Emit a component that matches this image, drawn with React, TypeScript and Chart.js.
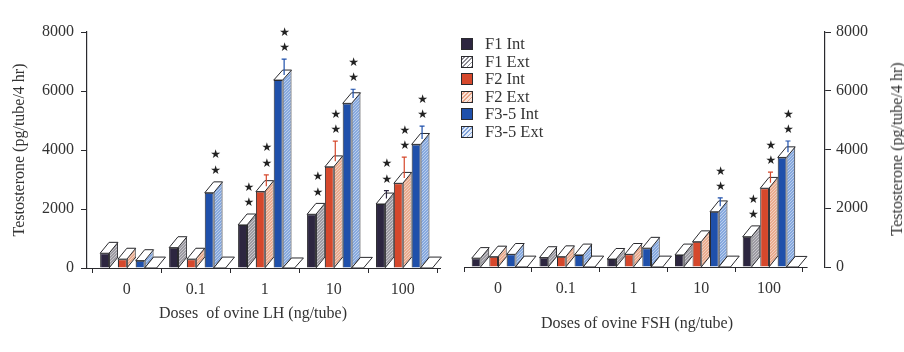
import React, { useEffect, useRef } from 'react';
import { Chart, registerables } from 'chart.js';
Chart.register(...registerables);

const SERIF = '"Liberation Serif", "Times New Roman", serif';
const INK = '#2a2a2e';
const TXT = '#333';

// ---------- data ----------
const doseLabels = ['0', '0.1', '1', '10', '100'];
const seriesNames = ['F1 Int', 'F1 Ext', 'F2 Int', 'F2 Ext', 'F3-5 Int', 'F3-5 Ext'];
const yTicks = [0, 2000, 4000, 6000, 8000];

// LH panel
const lhF1Int = [500, 690, 1460, 1820, 2170];
const lhF1Ext = [870, 1060, 1830, 2190, 2540];
const lhF2Int = [300, 300, 2590, 3430, 2870];
const lhF2Ext = [670, 670, 2960, 3800, 3240];
const lhF35Int = [250, 2550, 6370, 5580, 4190];
const lhF35Ext = [620, 2920, 6710, 5940, 4560];
const lhF1Err = [0, 0, 0, 0, 80];
const lhF2Err = [0, 0, 200, 500, 520];
const lhF35Err = [0, 0, 370, 120, 250];
const lhF1Stars = [0, 0, 2, 2, 2];
const lhF2Stars = [0, 0, 2, 2, 2];
const lhF35Stars = [0, 2, 2, 2, 2];

// FSH panel
const fshF1Int = [300, 320, 270, 410, 1030];
const fshF1Ext = [660, 690, 630, 780, 1400];
const fshF2Int = [350, 350, 430, 860, 2680];
const fshF2Ext = [710, 720, 800, 1230, 3050];
const fshF35Int = [430, 410, 640, 1880, 3730];
const fshF35Ext = [800, 780, 1010, 2250, 4090];
const fshF1Err = [0, 0, 0, 0, 0];
const fshF2Err = [0, 0, 0, 0, 180];
const fshF35Err = [0, 0, 0, 100, 200];
const fshF1Stars = [0, 0, 0, 0, 2];
const fshF2Stars = [0, 0, 0, 0, 2];
const fshF35Stars = [0, 0, 0, 2, 2];

// ---------- styles ----------
const intColors = ['#2d2640', '#d6482c', '#1f50ab'];
const extBase = ['#9c9aa2', '#e9ab8e', '#86a8de'];
const legendExtCss = [
  'repeating-linear-gradient(-45deg, #8e8c94 0 1.2px, #ffffff 1.2px 3px)',
  'repeating-linear-gradient(-45deg, #e9a386 0 1.2px, #fbe3d8 1.2px 3px)',
  'repeating-linear-gradient(-45deg, #7fa2da 0 1.2px, #e3ecfa 1.2px 3px)',
];

function hatch(bg: string, line: string) {
  const c = document.createElement('canvas');
  c.width = 3;
  c.height = 3;
  const g = c.getContext('2d')!;
  g.fillStyle = bg;
  g.fillRect(0, 0, 3, 3);
  g.strokeStyle = line;
  g.lineWidth = 0.8;
  g.beginPath();
  g.moveTo(0, 3); g.lineTo(3, 0);
  g.moveTo(-1, 1); g.lineTo(1, -1);
  g.moveTo(2, 4); g.lineTo(4, 2);
  g.stroke();
  return g.createPattern(c, 'repeat')!;
}

function makeDatasets(ints: number[][], exts: number[][]) {
  const ds: any[] = [];
  for (let p = 0; p < 3; p++) {
    ds.push({
      label: seriesNames[2 * p],
      data: ints[p].map((v, i) => ({ x: i, y: v })),
      backgroundColor: intColors[p],
      borderColor: INK,
      borderWidth: 1,
      categoryPercentage: 0.775,
      barPercentage: 1,
    });
    ds.push({
      label: seriesNames[2 * p + 1],
      data: exts[p].map((v, i) => ({ x: i, y: v })),
      backgroundColor: hatch(extBase[p], 'rgba(255,255,255,0.55)'),
      borderColor: INK,
      borderWidth: 1,
      categoryPercentage: 0.775,
      barPercentage: 1,
    });
  }
  return ds;
}

function box3d(exts: number[][], errs: number[][], stars: number[][], baseline: [number, number] | null) {
  return {
    id: 'box3d',
    afterDatasetsDraw(chart: any) {
      const ctx = chart.ctx as CanvasRenderingContext2D;
      const ys = chart.scales.y;
      const xs = chart.scales.x;
      const base = ys.getPixelForValue(0);
      ctx.save();
      ctx.lineWidth = 1;
      ctx.strokeStyle = INK;
      ctx.lineJoin = 'round';
      if (baseline) {
        ctx.beginPath();
        ctx.moveTo(xs.getPixelForValue(baseline[0]), base + 0.5);
        ctx.lineTo(xs.getPixelForValue(baseline[1]), base + 0.5);
        ctx.stroke();
      }
      for (let p = 0; p < 3; p++) {
        const mi = chart.getDatasetMeta(2 * p);
        const me = chart.getDatasetMeta(2 * p + 1);
        mi.data.forEach((bi: any, k: number) => {
          const be: any = me.data[k];
          const w = bi.width;
          const L = bi.x - w / 2;
          const xm = be.x - be.width / 2;
          const xr = be.x + be.width / 2;
          const yI = bi.y;
          const yE = be.y;
          const d = yI - yE;
          // floor triangle under side face
          ctx.fillStyle = '#ffffff';
          ctx.beginPath();
          ctx.moveTo(xm, base);
          ctx.lineTo(xr, base - d);
          ctx.lineTo(xr, base);
          ctx.closePath();
          ctx.fill();
          ctx.beginPath();
          ctx.moveTo(xm, base);
          ctx.lineTo(xr, base - d);
          ctx.stroke();
          if (p === 2) {
            const tw = w + 3;
            ctx.beginPath();
            ctx.moveTo(xm, base);
            ctx.lineTo(xm + tw, base);
            ctx.lineTo(xr + tw, base - d);
            ctx.lineTo(xr, base - d);
            ctx.closePath();
            ctx.fill();
            ctx.stroke();
          }
          // top cap
          ctx.beginPath();
          ctx.moveTo(L, yI);
          ctx.lineTo(L + w, yI);
          ctx.lineTo(xr, yE);
          ctx.lineTo(xr - w, yE);
          ctx.closePath();
          ctx.fillStyle = '#ffffff';
          ctx.fill();
          ctx.stroke();
          // error bar
          let topRef = yE;
          const e = errs[p][k];
          if (e > 0) {
            const et = ys.getPixelForValue(exts[p][k] + e);
            const ex = xm + 1.5;
            ctx.save();
            ctx.strokeStyle = intColors[p];
            ctx.lineWidth = 1.2;
            ctx.beginPath();
            ctx.moveTo(ex, yE + d / 2);
            ctx.lineTo(ex, et);
            ctx.moveTo(ex - 2.5, et);
            ctx.lineTo(ex + 2.5, et);
            ctx.stroke();
            ctx.restore();
            topRef = Math.min(topRef, et);
          }
          // significance stars
          const n = stars[p][k];
          if (n > 0) {
            ctx.fillStyle = '#222';
            ctx.font = '12px "DejaVu Sans"';
            ctx.textAlign = 'center';
            ctx.textBaseline = 'middle';
            for (let s = 0; s < n; s++) {
              ctx.fillText('★', xm + 2, topRef - 11 - s * 15.5);
            }
          }
        });
      }
      ctx.restore();
    },
  };
}

function baseOptions(side: 'left' | 'right', xmin: number, xmax: number, pad: any, yWidth: number, showXBorder: boolean) {
  const font = { family: SERIF, size: 16 };
  return {
    animation: false,
    responsive: false,
    maintainAspectRatio: false,
    layout: { padding: pad },
    plugins: { legend: { display: false }, tooltip: { enabled: false } },
    scales: {
      x: {
        type: 'linear',
        min: xmin,
        max: xmax,
        offset: false,
        afterBuildTicks: (s: any) => {
          s.ticks = doseLabels.map((_, i) => ({ value: i }));
        },
        afterFit: (s: any) => {
          s.height = 40;
        },
        grid: { display: true, drawOnChartArea: false, tickLength: 5, color: INK, lineWidth: 1 },
        border: { display: showXBorder, color: INK, width: 1 },
        ticks: {
          autoSkip: false,
          maxRotation: 0,
          padding: 7,
          color: TXT,
          font,
          callback: (v: any) => doseLabels[Math.round(v)] ?? '',
        },
      },
      y: {
        position: side,
        min: 0,
        max: 8000,
        afterBuildTicks: (s: any) => {
          s.ticks = yTicks.map((v) => ({ value: v }));
        },
        afterFit: (s: any) => {
          s.width = yWidth;
        },
        grid: { display: true, drawOnChartArea: false, tickLength: 6, color: INK, lineWidth: 1 },
        border: { display: true, color: INK, width: 1.2 },
        ticks: { color: TXT, font, padding: side === 'left' ? 7 : 5, callback: (v: any) => String(v) },
        title: side === 'left'
          ? { display: true, text: 'Testosterone (pg/tube/4 hr)', color: TXT, font, padding: { top: 10, bottom: 0 } }
          : { display: false },
      },
    },
  };
}

export default function App() {
  const leftRef = useRef<HTMLCanvasElement>(null);
  const rightRef = useRef<HTMLCanvasElement>(null);

  useEffect(() => {
    const left = new Chart(leftRef.current!, {
      type: 'bar',
      data: { datasets: makeDatasets([lhF1Int, lhF2Int, lhF35Int], [lhF1Ext, lhF2Ext, lhF35Ext]) },
      options: baseOptions('left', -0.578, 4.54, { left: 0, right: 12, top: 32, bottom: 44 }, 87, true) as any,
      plugins: [box3d([lhF1Ext, lhF2Ext, lhF35Ext], [lhF1Err, lhF2Err, lhF35Err], [lhF1Stars, lhF2Stars, lhF35Stars], null)],
    });
    const right = new Chart(rightRef.current!, {
      type: 'bar',
      data: { datasets: makeDatasets([fshF1Int, fshF2Int, fshF35Int], [fshF1Ext, fshF2Ext, fshF35Ext]) },
      options: baseOptions('right', -0.531, 4.827, { left: 10, right: 0, top: 32, bottom: 45 }, 79, false) as any,
      plugins: [box3d([fshF1Ext, fshF2Ext, fshF35Ext], [fshF1Err, fshF2Err, fshF35Err], [fshF1Stars, fshF2Stars, fshF35Stars], [-0.5, 4.57])],
    });
    return () => {
      left.destroy();
      right.destroy();
    };
  }, []);

  const legendSwatch = (i: number): React.CSSProperties => {
    const p = Math.floor(i / 2);
    const isExt = i % 2 === 1;
    return {
      position: 'absolute',
      left: 0,
      top: 3,
      width: 10,
      height: 10,
      border: `1px solid ${INK}`,
      background: isExt ? legendExtCss[p] : intColors[p],
    };
  };

  return (
    <div style={{ position: 'absolute', left: 0, top: 0, width: 904, height: 352, background: '#ffffff', overflow: 'hidden', fontFamily: SERIF, color: TXT }}>
      <canvas ref={leftRef} width={452} height={352} style={{ position: 'absolute', left: 0, top: 0, width: 452, height: 352 }} />
      <canvas ref={rightRef} width={452} height={352} style={{ position: 'absolute', left: 452, top: 0, width: 452, height: 352 }} />
      {/* legend */}
      <div style={{ position: 'absolute', left: 461, top: 35 }}>
        {seriesNames.map((n, i) => (
          <div key={n} style={{ position: 'relative', height: 17.5, width: 100 }}>
            <div style={legendSwatch(i)} />
            <div style={{ position: 'absolute', left: 24, top: -1, fontSize: 16.5, lineHeight: '19px', whiteSpace: 'pre' }}>{n}</div>
          </div>
        ))}
      </div>
      {/* x titles */}
      <div style={{ position: 'absolute', left: 253, top: 313, transform: 'translate(-50%, -50%)', fontSize: 16, whiteSpace: 'pre' }}>
        {'Doses  of ovine LH (ng/tube)'}
      </div>
      <div style={{ position: 'absolute', left: 637, top: 323, transform: 'translate(-50%, -50%)', fontSize: 16, whiteSpace: 'pre' }}>
        {'Doses of ovine FSH (ng/tube)'}
      </div>
      {/* right y title */}
      <div style={{ position: 'absolute', left: 897, top: 149, transform: 'translate(-50%, -50%) rotate(-90deg)', fontSize: 16, whiteSpace: 'pre' }}>
        {'Testosterone (pg/tube/4 hr)'}
      </div>
    </div>
  );
}
